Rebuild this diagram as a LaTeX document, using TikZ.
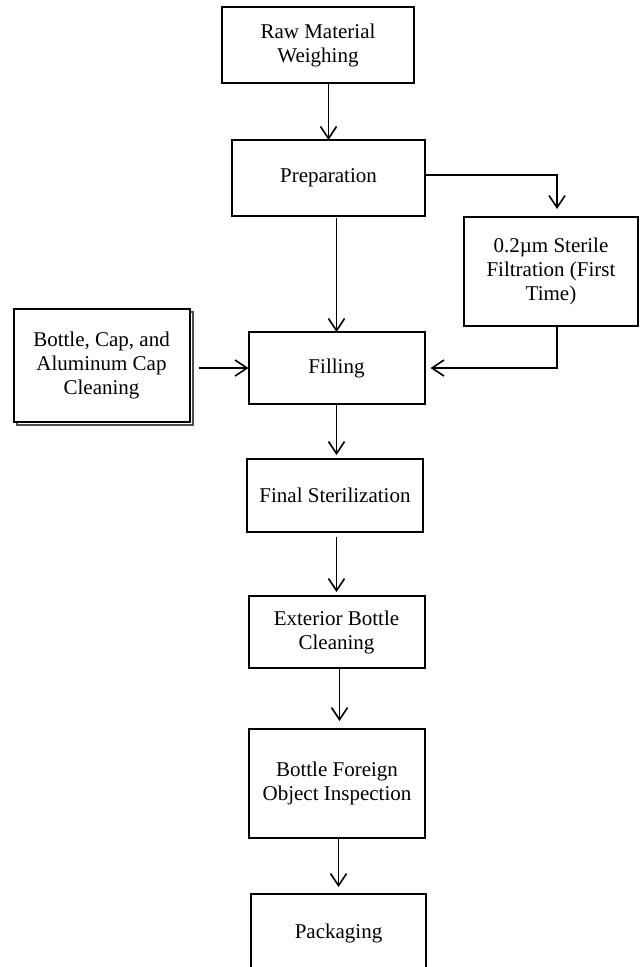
\documentclass[tikz,border=0pt]{standalone}
\usepackage{fontspec}
\setmainfont{Liberation Serif}
\usetikzlibrary{arrows.meta,positioning,shadows}

\begin{document}
\begin{tikzpicture}[x=1pt,y=-1pt,line width=1.6pt,
    >={Straight Barb[length=12pt,width=16pt]},
    stepbox/.style={draw,line width=2pt,fill=white,outer sep=0pt,inner sep=2pt,
      minimum width=176pt,minimum height=72pt,align=center,
      font=\fontsize{21}{24}\selectfont}]
           \clip (0,0) rectangle (640,967);
           \node[stepbox,minimum width=192pt,minimum height=76pt] (s_0) at (318,45) {Raw Material\\Weighing};
           \node[stepbox,minimum width=193pt,minimum height=76pt] (s_1) [below=57pt of s_0,xshift=10.5pt] {Preparation};
           \node[stepbox] (s_2) [below=116pt of s_1,xshift=8pt] {Filling};
           \node[stepbox,minimum width=174pt,minimum height=109pt] (s_3) [below right=1pt and 39pt of s_1] {0.2µm Sterile\\Filtration (First\\Time)};
           \node[stepbox,minimum height=113pt,copy shadow={shadow xshift=3pt,shadow yshift=-3pt,draw=black!70}] (s_4) [left=59pt of s_2,yshift=2.5pt] {Bottle, Cap, and\\Aluminum Cap\\Cleaning};
           \node[stepbox,minimum height=73pt] (s_5) [below=55pt of s_2,xshift=-1.5pt] {Final Sterilization};
           \node[stepbox] (s_6) [below=64pt of s_5,xshift=1.5pt] {Exterior Bottle\\Cleaning};
           \node[stepbox,minimum height=109pt] (s_7) [below=61pt of s_6,xshift=0.5pt] {Bottle Foreign\\Object Inspection};
           \node[stepbox,minimum width=175pt,minimum height=78pt] (s_8) [below=56pt of s_7,xshift=1.5pt] {Packaging};
           \draw[->] (s_1.north |- s_0.south) -- (s_1.north);
           \draw[->,shorten >=8pt] ([yshift=3pt]s_1.east) -| ([xshift=6pt]s_3.north);
           \draw[->,shorten <=2pt] (s_2.north |- s_1.south) -- (s_2.north);
           \draw[->,shorten >=6pt] ([xshift=6pt]s_3.south) |- (s_2.east);
           \draw[->,shorten <=9pt] (s_4.east |- s_2.west) -- (s_2.west);
           \draw[->,shorten >=4pt] (s_2.south) -- (s_2.south |- s_5.north);
           \draw[->,shorten <=5pt,shorten >=4pt] (s_6.north |- s_5.south) -- (s_6.north);
           \draw[->,shorten >=8pt] ([xshift=3pt]s_6.south) -- ([xshift=3pt]s_6.south |- s_7.north);
           \draw[->,shorten >=7pt] (s_8.north |- s_7.south) -- (s_8.north);
    \end{tikzpicture}
\end{document}
